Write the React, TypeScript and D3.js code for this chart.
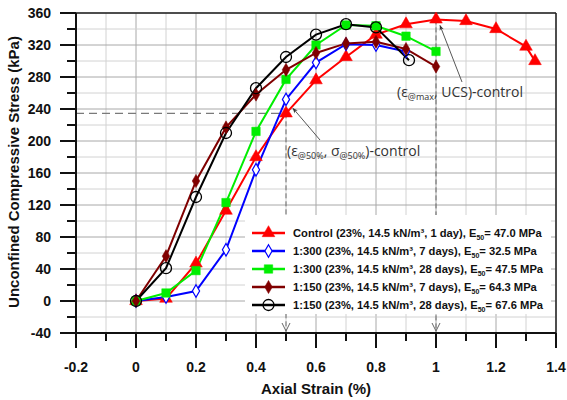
import React from "react";
import * as d3 from "d3";

// series: axial strain (%) / UCS (kPa)
const strainControl = [0, 0.1, 0.2, 0.3, 0.4, 0.5, 0.6, 0.7, 0.8, 0.9, 1.0, 1.1, 1.2, 1.3, 1.33];
const stressControl = [0, 3, 47, 113, 180, 234.6, 276, 305, 333, 346, 352, 350, 340, 318, 300];

const strain300d7 = [0, 0.1, 0.2, 0.3, 0.4, 0.5, 0.6, 0.7, 0.8, 0.9];
const stress300d7 = [0, 5, 12.5, 64, 164, 252, 298, 321, 320, 312];

const strain300d28 = [0, 0.1, 0.2, 0.3, 0.4, 0.5, 0.6, 0.7, 0.8, 0.9, 1.0];
const stress300d28 = [0, 10, 38, 123, 212, 277, 320, 345, 344, 331, 312];

const strain150d7 = [0, 0.1, 0.2, 0.3, 0.4, 0.5, 0.6, 0.7, 0.8, 0.9, 1.0];
const stress150d7 = [0, 56, 150, 217, 258, 289, 310, 322, 324, 315, 293];

const strain150d28 = [0, 0.1, 0.2, 0.3, 0.4, 0.5, 0.6, 0.7, 0.8, 0.91];
const stress150d28 = [0, 41, 130, 210, 266, 305, 333, 346, 342, 301];

const seriesNames = ["Control", "1:300", "1:300", "1:150", "1:150"];
const seriesAges = ["1 day", "7 days", "28 days", "7 days", "28 days"];
const seriesE50 = ["47.0", "32.5", "47.5", "64.3", "67.6"];

// reference points for control sample
const ucsStrain = 1.0;
const ucsStress = 352;
const halfStrain = 0.5;
const halfStress = 234.6;

const W = 567;
const H = 400;

type Series = { x: number[]; y: number[]; color: string; marker: string };

const series: Series[] = [
  { x: strainControl, y: stressControl, color: "#ff0000", marker: "triangle" },
  { x: strain300d7, y: stress300d7, color: "#0000ff", marker: "diamondOpen" },
  { x: strain300d28, y: stress300d28, color: "#00ee00", marker: "square" },
  { x: strain150d7, y: stress150d7, color: "#800000", marker: "diamond" },
  { x: strain150d28, y: stress150d28, color: "#000000", marker: "circle" },
];

function Marker({ kind, x, y, color }: { kind: string; x: number; y: number; color: string }) {
  if (kind === "circle") {
    return <circle cx={x} cy={y} r={5.5} fill="none" stroke={color} strokeWidth={1.3} />;
  }
  let sym = d3.symbolTriangle;
  let size = 70;
  if (kind === "square") { sym = d3.symbolSquare; size = 72; }
  if (kind === "diamond") { sym = d3.symbolDiamond; size = 50; }
  if (kind === "diamondOpen") { sym = d3.symbolDiamond; size = 45; }
  const d = d3.symbol().type(sym).size(size)() as string;
  const open = kind === "diamondOpen";
  return (
    <path
      d={d}
      transform={`translate(${x},${y})`}
      fill={open ? "#fff" : color}
      stroke={color}
      strokeWidth={open ? 1.2 : 0.5}
    />
  );
}

export default function App() {
  const x = d3.scaleLinear().domain([-0.2, 1.4]).range([76, 556]);
  const y = d3.scaleLinear().domain([-40, 360]).range([333, 13]);

  const xTicks = d3.range(-2, 15).map((i) => i / 10);
  const yTicks = d3.range(-40, 361, 20);

  const line = d3
    .line<[number, number]>()
    .x((d) => x(d[0]))
    .y((d) => y(d[1]));

  const fmt = (v: number) => String(Math.round(v * 10) / 10);

  const legX = 245;
  const legY = 215;
  const legRow = 18;

  return (
    <div style={{ position: "fixed", left: 0, top: 0 }}>
      <svg width={W} height={H} style={{ display: "block", background: "#fff" }}>
        {/* grid */}
        {xTicks.map((t, i) => (
          <line
            key={"gx" + i}
            x1={x(t)}
            x2={x(t)}
            y1={y(-40)}
            y2={y(360)}
            stroke={i % 2 === 0 ? "#a8a8a8" : "#d2d2d2"}
            strokeWidth={1}
          />
        ))}
        {yTicks.map((t, i) => (
          <line
            key={"gy" + i}
            x1={x(-0.2)}
            x2={x(1.4)}
            y1={y(t)}
            y2={y(t)}
            stroke={i % 2 === 0 ? "#a8a8a8" : "#d2d2d2"}
            strokeWidth={1}
          />
        ))}

        {/* frame */}
        <line x1={x(-0.2)} x2={x(1.4)} y1={y(360)} y2={y(360)} stroke="#222" strokeWidth={1.5} />
        <line x1={x(1.4)} x2={x(1.4)} y1={y(360)} y2={y(-40)} stroke="#222" strokeWidth={1.5} />

        {/* dashed reference lines */}
        <line
          x1={x(-0.2)}
          x2={x(halfStrain)}
          y1={y(halfStress)}
          y2={y(halfStress)}
          stroke="#7a7a7a"
          strokeWidth={1.3}
          strokeDasharray="8,5"
        />
        <line
          x1={x(halfStrain)}
          x2={x(halfStrain)}
          y1={y(halfStress)}
          y2={y(-40)}
          stroke="#6a6a6a"
          strokeWidth={1}
          strokeDasharray="5,3"
        />
        <line
          x1={x(ucsStrain)}
          x2={x(ucsStrain)}
          y1={y(ucsStress)}
          y2={y(-40)}
          stroke="#6a6a6a"
          strokeWidth={1}
          strokeDasharray="5,3"
        />

        {/* series lines */}
        {series.map((s, i) => (
          <path
            key={"l" + i}
            d={line(s.x.map((v, j) => [v, s.y[j]] as [number, number])) as string}
            fill="none"
            stroke={s.color}
            strokeWidth={2}
          />
        ))}
        {series.map((s, i) =>
          s.x.map((v, j) => (
            <Marker key={"m" + i + "-" + j} kind={s.marker} x={x(v)} y={y(s.y[j])} color={s.color} />
          ))
        )}

        {/* legend */}
        <rect x={legX} y={legY} width={306} height={99} fill="#fff" />
        {series.map((s, i) => {
          const ry = legY + 18 + i * legRow;
          return (
            <g key={"lg" + i}>
              <line x1={252} x2={285} y1={ry} y2={ry} stroke={s.color} strokeWidth={2.5} />
              <Marker kind={s.marker} x={268.5} y={ry} color={s.color} />
              <text
                x={293}
                y={ry + 4}
                fontFamily="Liberation Sans, Arial, sans-serif"
                fontWeight="bold"
                fontSize={11.2}
                fill="#111"
              >
                {seriesNames[i]} (23%, 14.5 kN/m³, {seriesAges[i]}), E
                <tspan fontSize={7} dy={2.5}>50</tspan>
                <tspan dy={-2.5}>= {seriesE50[i]} MPa</tspan>
              </text>
            </g>
          );
        })}

        {/* arrow chevrons at the axis */}
        {[halfStrain, ucsStrain].map((v, i) => (
          <path
            key={"ch" + i}
            d={`M${x(v) - 4},${y(-40) - 10} L${x(v)},${y(-40) - 2} L${x(v) + 4},${y(-40) - 10}`}
            fill="none"
            stroke="#666"
            strokeWidth={1}
          />
        ))}

        {/* annotation arrows */}
        <defs>
          <marker id="ah" viewBox="0 0 10 10" refX="9" refY="5" markerWidth="9" markerHeight="6" orient="auto">
            <path d="M0,1 L10,5 L0,9 L3,5 Z" fill="#333" />
          </marker>
        </defs>
        <line x1={320} y1={140} x2={x(halfStrain) + 7} y2={y(halfStress) - 5} stroke="#444" strokeWidth={0.9} markerEnd="url(#ah)" />
        <line x1={462} y1={82} x2={x(ucsStrain) + 4} y2={y(ucsStress) + 6} stroke="#444" strokeWidth={0.9} markerEnd="url(#ah)" />

        <text x={287} y={156} fontFamily="Open Sans, Liberation Sans, sans-serif" fontSize={14} fill="#333">
          (ε<tspan fontSize={9} dy={3}>@50%</tspan>
          <tspan dy={-3}>, σ</tspan>
          <tspan fontSize={9} dy={3}>@50%</tspan>
          <tspan dy={-3}>)-control</tspan>
        </text>
        <text x={397} y={97} fontFamily="Open Sans, Liberation Sans, sans-serif" fontSize={14} fill="#333">
          (ε<tspan fontSize={9} dy={3}>@max</tspan>
          <tspan dy={-3}>, UCS)-control</tspan>
        </text>

        {/* axes */}
        <line x1={x(-0.2)} x2={x(1.4)} y1={y(-40)} y2={y(-40)} stroke="#111" strokeWidth={2} />
        <line x1={x(-0.2)} x2={x(-0.2)} y1={y(-40)} y2={y(360)} stroke="#111" strokeWidth={2} />
        {xTicks.map((t, i) => (
          <line
            key={"tx" + i}
            x1={x(t)}
            x2={x(t)}
            y1={y(-40)}
            y2={y(-40) + (i % 2 === 0 ? 15 : 8)}
            stroke="#111"
            strokeWidth={2}
          />
        ))}
        {yTicks.map((t, i) => (
          <line
            key={"ty" + i}
            x1={x(-0.2) - (i % 2 === 0 ? 16 : 9)}
            x2={x(-0.2)}
            y1={y(t)}
            y2={y(t)}
            stroke="#111"
            strokeWidth={2}
          />
        ))}
        {xTicks
          .filter((_, i) => i % 2 === 0)
          .map((t, i) => (
            <text
              key={"lx" + i}
              x={x(t)}
              y={372}
              textAnchor="middle"
              fontFamily="Liberation Sans, Arial, sans-serif"
              fontWeight="bold"
              fontSize={14}
              fill="#111"
            >
              {fmt(t)}
            </text>
          ))}
        {yTicks
          .filter((_, i) => i % 2 === 0)
          .map((t, i) => (
            <text
              key={"ly" + i}
              x={51}
              y={y(t) + 5}
              textAnchor="end"
              fontFamily="Liberation Sans, Arial, sans-serif"
              fontWeight="bold"
              fontSize={14}
              fill="#111"
            >
              {fmt(t)}
            </text>
          ))}
        <text
          x={316}
          y={394}
          textAnchor="middle"
          fontFamily="Liberation Sans, Arial, sans-serif"
          fontWeight="bold"
          fontSize={15}
          fill="#111"
        >
          Axial Strain (%)
        </text>
        <text
          transform={`translate(19,${172}) rotate(-90)`}
          textAnchor="middle"
          fontFamily="Liberation Sans, Arial, sans-serif"
          fontWeight="bold"
          fontSize={15}
          fill="#111"
        >
          Unconfined Compressive Stress (kPa)
        </text>
      </svg>
    </div>
  );
}
